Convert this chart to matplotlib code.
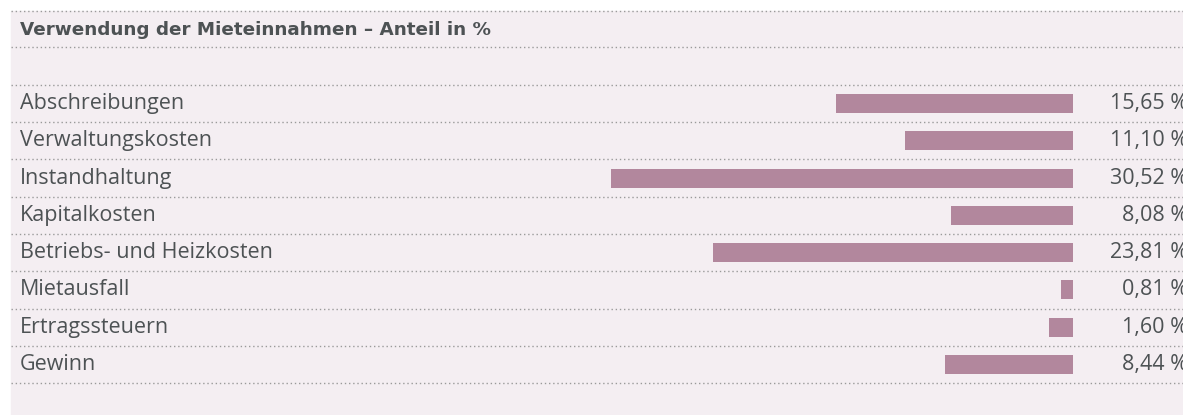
import matplotlib
matplotlib.use("Agg")
import matplotlib.pyplot as plt
from matplotlib.lines import Line2D
from matplotlib.patches import Rectangle

# Daten
kategorien = ["Abschreibungen", "Verwaltungskosten", "Instandhaltung", "Kapitalkosten",
              "Betriebs- und Heizkosten", "Mietausfall", "Ertragssteuern", "Gewinn"]
anteile = [15.65, 11.10, 30.52, 8.08, 23.81, 0.81, 1.60, 8.44]
titel = "Verwendung der Mieteinnahmen – Anteil in %"

W, H = 1183, 415
bg_col = "#f4eef2"
bar_col = "#b2879d"
txt_col = "#4d5254"
dot_col = "#9a9a9a"

panel_x0 = 11
top_line = 11
title_line = 47
row0 = 85
row_h = 37.25
bar_right = 1073
px_per_pct = 15.14

fig = plt.figure(figsize=(W / 100, H / 100), dpi=100)

# Hintergrund-Achse in Pixeln
bg = fig.add_axes([0, 0, 1, 1])
bg.set_xlim(0, W)
bg.set_ylim(H, 0)
bg.axis("off")
bg.add_patch(Rectangle((panel_x0, top_line), W - panel_x0, H - top_line, color=bg_col, zorder=0))

n = len(kategorien)
lines_y = [top_line, title_line, row0] + [row0 + (i + 1) * row_h for i in range(n)]
for yy in lines_y:
    bg.add_line(Line2D([panel_x0, W], [yy, yy], color=dot_col, lw=1, ls=(0, (1, 2)), zorder=1))

bg.text(20, (top_line + title_line) / 2 + 1, titel, fontsize=13.2, fontweight="bold",
        family="DejaVu Sans", color=txt_col, va="center", ha="left")

for i, (k, v) in enumerate(zip(kategorien, anteile)):
    yc = row0 + (i + 0.5) * row_h
    bg.text(20, yc, k, fontsize=15.5, family="Open Sans", color=txt_col, va="center", ha="left")
    bg.text(1188, yc, f"{v:.2f} %".replace(".", ","), fontsize=15.5, family="Open Sans",
            color=txt_col, va="center", ha="right")

# Balken-Achse
ax_w = bar_right - panel_x0
ax = fig.add_axes([panel_x0 / W, 0, ax_w / W, (H - row0) / H])
ax.patch.set_alpha(0)
ax.set_xlim(ax_w / px_per_pct, 0)
ax.set_ylim((H - row0) / row_h, 0)
ax.barh([i + 0.5 for i in range(n)], anteile, height=0.51, color=bar_col, zorder=2)
ax.axis("off")

fig.savefig("out.png", dpi=100)
